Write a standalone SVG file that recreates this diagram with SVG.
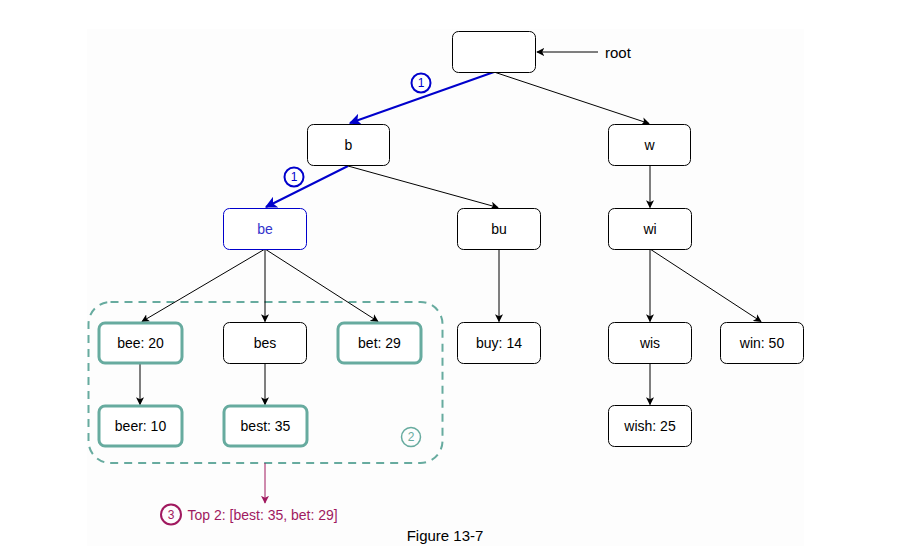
<svg xmlns="http://www.w3.org/2000/svg" width="901" height="553" viewBox="0 0 901 553">
<style>
.n{fill:#fff;stroke:#000;stroke-width:1}
.t{fill:#fff;stroke:#67ab9f;stroke-width:3}
.lbl{font-family:"Liberation Sans",Arial,sans-serif;font-size:14px;text-anchor:middle;dominant-baseline:central;fill:#000}
.c{stroke:#000;stroke-width:1;fill:none;marker-end:url(#ah)}
.cb{stroke:#0000cc;stroke-width:2;fill:none;marker-end:url(#ahb)}
.num{font-family:"Liberation Sans",Arial,sans-serif;font-size:12px;text-anchor:middle;dominant-baseline:central}
</style>
<defs>
<marker id="ah" viewBox="0 0 10 10" refX="9" refY="5" markerWidth="8" markerHeight="8" orient="auto" markerUnits="userSpaceOnUse">
<path d="M0,0 L10,5 L0,10 L2.5,5 Z" fill="#000"/>
</marker>
<marker id="ahb" viewBox="0 0 10 10" refX="9" refY="5" markerWidth="6" markerHeight="6" orient="auto">
<path d="M0,0 L10,5 L0,10 L2.5,5 Z" fill="#0000cc"/>
</marker>
<marker id="ahp" viewBox="0 0 10 10" refX="9" refY="5" markerWidth="8" markerHeight="8" orient="auto" markerUnits="userSpaceOnUse">
<path d="M0,0 L10,5 L0,10 L2.5,5 Z" fill="#a0195f"/>
</marker>
</defs>
<rect x="0" y="0" width="901" height="553" fill="#fff"/>
<rect x="87" y="29" width="717" height="517" fill="#fdfdfd"/>

<g id="group2">
<rect x="88.5" y="302" width="354" height="161" rx="22" fill="none" stroke="#67ab9f" stroke-width="2" stroke-dasharray="8,6"/>
<circle cx="411" cy="437" r="9.5" fill="none" stroke="#67ab9f" stroke-width="1.5"/>
<text class="num" x="411" y="437" fill="#67ab9f">2</text>
</g>

<g id="connectors">
<line class="c" x1="598" y1="52" x2="537" y2="52"/>
<line class="cb" x1="494" y1="72" x2="350" y2="123"/>
<line class="c" x1="494" y1="72" x2="649" y2="123.5"/>
<line class="cb" x1="348" y1="166" x2="266" y2="207"/>
<line class="c" x1="348" y1="166" x2="498" y2="207.5"/>
<line class="c" x1="650" y1="166" x2="650" y2="207.5"/>
<line class="c" x1="265" y1="249" x2="142" y2="321.5"/>
<line class="c" x1="265" y1="249" x2="265" y2="321.5"/>
<line class="c" x1="265" y1="249" x2="378" y2="321.5"/>
<line class="c" x1="140" y1="364" x2="140" y2="404.5"/>
<line class="c" x1="265" y1="364" x2="265" y2="404.5"/>
<line class="c" x1="499" y1="249" x2="499" y2="321.5"/>
<line class="c" x1="650" y1="249" x2="650" y2="321.5"/>
<line class="c" x1="650" y1="249" x2="761" y2="321.5"/>
<line class="c" x1="650" y1="364" x2="650" y2="404.5"/>
<line x1="265" y1="463" x2="265" y2="503" stroke="#a0195f" stroke-width="1" marker-end="url(#ahp)"/>
<circle cx="421" cy="83" r="9.5" fill="#fff" stroke="#0000cc" stroke-width="2"/>
<text class="num" x="421" y="83" fill="#0000cc">1</text>
<circle cx="294" cy="177" r="9.5" fill="#fff" stroke="#0000cc" stroke-width="2"/>
<text class="num" x="294" y="177" fill="#0000cc">1</text>
</g>

<g id="root">
<rect class="n" x="452.5" y="31.5" width="83" height="41" rx="6"/>
</g>
<text class="lbl" x="605" y="52" style="text-anchor:start;font-size:15px">root</text>

<g id="b"><rect class="n" x="307.5" y="124.5" width="82" height="41" rx="6"/><text class="lbl" x="348.5" y="145">b</text></g>
<g id="w"><rect class="n" x="608.5" y="124.5" width="82" height="41" rx="6"/><text class="lbl" x="649.5" y="145">w</text></g>
<g id="be"><rect x="223.5" y="208.5" width="83" height="41" rx="6" fill="#fff" stroke="#0000cc" stroke-width="1"/><text class="lbl" x="265" y="229" style="fill:#3333cc">be</text></g>
<g id="bu"><rect class="n" x="457.5" y="208.5" width="83" height="41" rx="6"/><text class="lbl" x="499" y="229">bu</text></g>
<g id="wi"><rect class="n" x="608.5" y="208.5" width="83" height="41" rx="6"/><text class="lbl" x="650" y="229">wi</text></g>

<g id="bee"><rect class="t" x="99" y="323" width="83" height="40" rx="6"/><text class="lbl" x="140.5" y="343">bee: 20</text></g>
<g id="bes"><rect class="n" x="223.5" y="322.5" width="83" height="41" rx="6"/><text class="lbl" x="265" y="343">bes</text></g>
<g id="bet"><rect class="t" x="338" y="323" width="83" height="40" rx="6"/><text class="lbl" x="379.5" y="343">bet: 29</text></g>
<g id="buy"><rect class="n" x="457.5" y="322.5" width="83" height="41" rx="6"/><text class="lbl" x="499" y="343">buy: 14</text></g>
<g id="wis"><rect class="n" x="608.5" y="322.5" width="83" height="41" rx="6"/><text class="lbl" x="650" y="343">wis</text></g>
<g id="win"><rect class="n" x="720.5" y="322.5" width="83" height="41" rx="6"/><text class="lbl" x="762" y="343">win: 50</text></g>

<g id="beer"><rect class="t" x="99" y="406" width="83" height="40" rx="6"/><text class="lbl" x="140.5" y="426">beer: 10</text></g>
<g id="best"><rect class="t" x="224" y="406" width="83" height="40" rx="6"/><text class="lbl" x="265.5" y="426">best: 35</text></g>
<g id="wish"><rect class="n" x="608.5" y="405.5" width="83" height="41" rx="6"/><text class="lbl" x="650" y="426">wish: 25</text></g>

<g id="result">
<circle cx="171" cy="514.5" r="10" fill="none" stroke="#a0195f" stroke-width="2"/>
<text class="num" x="171" y="514.5" fill="#a0195f">3</text>
<text class="lbl" x="187.5" y="515" style="text-anchor:start;fill:#a0195f">Top 2: [best: 35, bet: 29]</text>
</g>
<text class="lbl" x="445" y="535" style="font-size:15px">Figure 13-7</text>
</svg>
